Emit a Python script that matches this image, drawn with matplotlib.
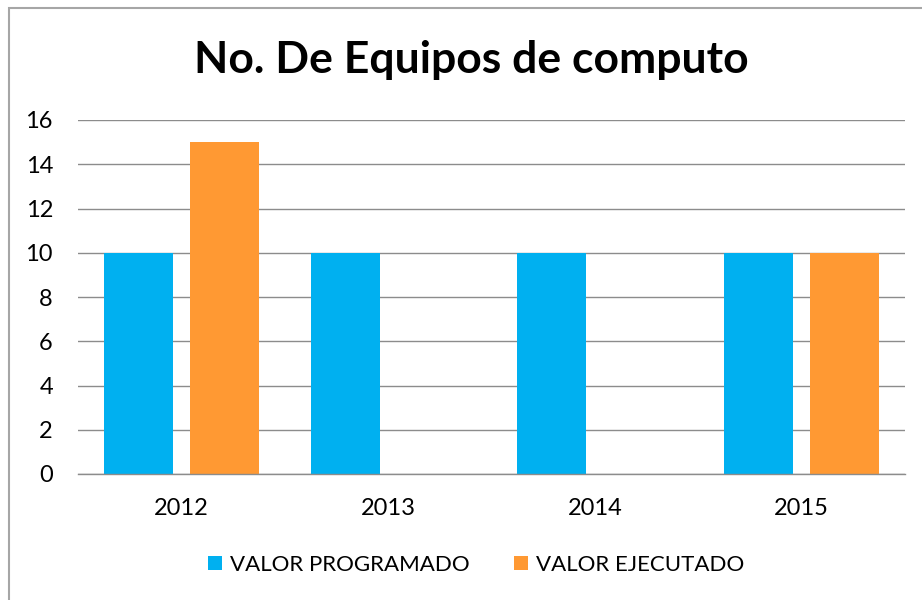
import matplotlib
matplotlib.use("Agg")
import matplotlib.pyplot as plt
from matplotlib.patches import Rectangle
import numpy as np

categories = ["2012", "2013", "2014", "2015"]
programado = [10, 10, 10, 10]
ejecutado = [15, 0, 0, 10]
series_names = ["VALOR PROGRAMADO", "VALOR EJECUTADO"]
yticks = [0, 2, 4, 6, 8, 10, 12, 14, 16]

plt.rcParams['font.family'] = ['Lato', 'DejaVu Sans']

fig = plt.figure(figsize=(9.22, 6.0), dpi=100)
ax = fig.add_axes([78/922, 1-474/600, (905-78)/922, (474-120)/600])

x = np.arange(len(categories))
w = 0.334
off = 0.208
blue = "#00B0F0"
orange = "#FF9933"
ax.bar(x - off, programado, w, color=blue, label=series_names[0])
ax.bar(x + off, ejecutado, w, color=orange, label=series_names[1])

ax.set_xlim(-0.5, len(categories) - 0.5)
ax.set_ylim(0, 16)
ax.set_yticks(yticks)
ax.set_xticks(x)
ax.set_xticklabels(categories)
ax.tick_params(axis='both', length=0, labelsize=17, colors="black")
ax.tick_params(axis='y', pad=18)
ax.tick_params(axis='x', pad=17)
ax.yaxis.grid(True, color="#8C8C8C", linewidth=1.0)
ax.set_axisbelow(True)
for s in ["top", "right", "left"]:
    ax.spines[s].set_visible(False)
ax.spines["bottom"].set_color("#8C8C8C")
ax.spines["bottom"].set_linewidth(1.0)

fig.text(471/922, 1-60/600, "No. De Equipos de computo", ha="center", va="center",
         fontsize=32, fontweight="bold")

leg = fig.legend(loc="center", bbox_to_anchor=(476/922, 1-565/600), ncol=2,
                 frameon=False, fontsize=16, handlelength=0.63, handleheight=0.63,
                 handletextpad=0.36, columnspacing=2.0)

fig.patches.append(Rectangle((9/922, -0.1), 1.2, 1 - 8/600 + 0.1, transform=fig.transFigure,
                             fill=False, edgecolor="#A6A6A6", linewidth=1.5))

fig.savefig("out.png", dpi=100)
